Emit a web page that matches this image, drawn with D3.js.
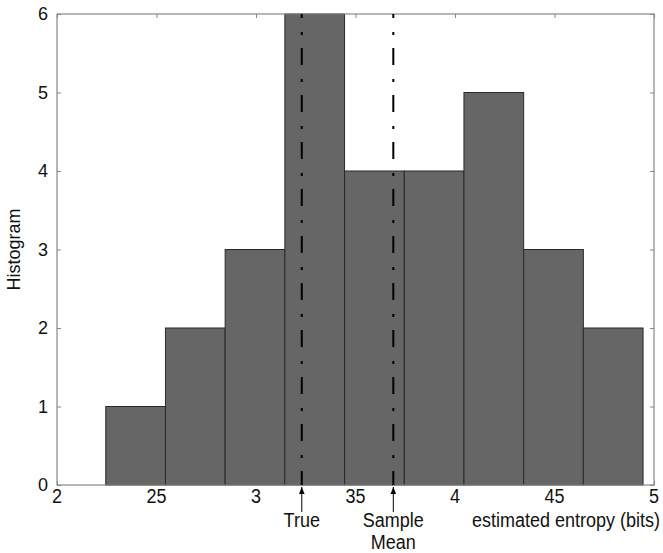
<!DOCTYPE html>
<html>
<head>
<meta charset="utf-8">
<script src="https://cdn.jsdelivr.net/npm/d3@7"></script>
<style>
  body { margin: 0; background: #fff; }
  svg { font-family: "Liberation Sans", Arial, sans-serif; fill: #111; }
  .bar { fill: #666666; stroke: #2a2a2a; stroke-width: 1; }
  .frame { fill: none; stroke: #888; stroke-width: 1.2; }
  .tick line { stroke: #888; }
  .marker { stroke: #000; stroke-width: 2; stroke-dasharray: 17,14,3,13; stroke-dashoffset: 13; }
</style>
</head>
<body>
<div id="chart"></div>
<script>
(function () {
    "use strict";
    var binEdges = [2.245, 2.545, 2.845, 3.145, 3.445, 3.745, 4.045, 4.345, 4.645, 4.945],
        counts = [1, 2, 3, 6, 4, 4, 5, 3, 2],
        xTicks = [2, 2.5, 3, 3.5, 4, 4.5, 5],
        xTickLabels = ["2", "25", "3", "35", "4", "45", "5"],
        yTicks = [0, 1, 2, 3, 4, 5, 6],
        markerValues = [3.23, 3.69],
        markerLabels = [["True"], ["Sample", "Mean"]],
        dims = { width: 663, height: 553 },
        margin = { top: 14, right: 9, bottom: 68, left: 57 },
        w = dims.width - margin.left - margin.right,
        h = dims.height - margin.top - margin.bottom,
        fs = 18,
        svg, g, x, y, bins;

    // bottom texts look slightly stretched vertically in the reference
    function stretched(sel, px, py) {
        return sel.attr("transform", "translate(" + px + "," + py + ") scale(1,1.1)");
    }

    svg = d3.select("#chart").append("svg")
        .attr("width", dims.width)
        .attr("height", dims.height);

    svg.append("defs").append("marker")
        .attr("id", "arrow")
        .attr("viewBox", "0 0 10 10")
        .attr("refX", 10).attr("refY", 5)
        .attr("markerWidth", 8).attr("markerHeight", 7)
        .attr("markerUnits", "userSpaceOnUse")
        .attr("orient", "auto")
        .append("path").attr("d", "M0,1L10,5L0,9Z").attr("fill", "#000");

    g = svg.append("g").attr("transform", "translate(" + margin.left + "," + margin.top + ")");

    x = d3.scaleLinear().domain([2, 5]).range([0, w]);
    y = d3.scaleLinear().domain([0, 6]).range([h, 0]);

    bins = counts.map(function (c, i) {
        return { x0: binEdges[i], x1: binEdges[i + 1], n: c };
    });

    // inward ticks on all four sides
    g.append("g")
        .attr("transform", "translate(0," + h + ")")
        .call(d3.axisBottom(x).tickValues(xTicks).tickSize(-4).tickFormat(""))
        .call(function (s) { s.select(".domain").remove(); });
    g.append("g")
        .call(d3.axisTop(x).tickValues(xTicks).tickSize(-4).tickFormat(""))
        .call(function (s) { s.select(".domain").remove(); });
    g.append("g")
        .call(d3.axisLeft(y).tickValues(yTicks).tickSize(-4).tickFormat(""))
        .call(function (s) { s.select(".domain").remove(); });
    g.append("g")
        .attr("transform", "translate(" + w + ",0)")
        .call(d3.axisRight(y).tickValues(yTicks).tickSize(-4).tickFormat(""))
        .call(function (s) { s.select(".domain").remove(); });

    g.selectAll("rect.bar").data(bins).enter().append("rect")
        .attr("class", "bar")
        .attr("x", function (d) { return x(d.x0); })
        .attr("y", function (d) { return y(d.n); })
        .attr("width", function (d) { return x(d.x1) - x(d.x0); })
        .attr("height", function (d) { return h - y(d.n); });

    g.append("rect").attr("class", "frame")
        .attr("x", 0).attr("y", 0).attr("width", w).attr("height", h);

    // tick labels
    g.selectAll("text.xl").data(xTicks).enter().append("text")
        .attr("class", "xl")
        .attr("text-anchor", "middle")
        .attr("font-size", fs)
        .each(function (d) { stretched(d3.select(this), x(d), h + 18); })
        .text(function (d, i) { return xTickLabels[i]; });

    g.selectAll("text.yl").data(yTicks).enter().append("text")
        .attr("class", "yl")
        .attr("x", -9)
        .attr("y", function (d) { return y(d) + 6; })
        .attr("text-anchor", "end")
        .attr("font-size", fs)
        .text(function (d) { return d; });

    // marker lines
    g.selectAll("line.marker").data(markerValues).enter().append("line")
        .attr("class", "marker")
        .attr("x1", function (d) { return x(d); })
        .attr("x2", function (d) { return x(d); })
        .attr("y1", 0)
        .attr("y2", h);

    g.selectAll("line.arrow").data(markerValues).enter().append("line")
        .attr("stroke", "#000").attr("stroke-width", 1)
        .attr("x1", function (d) { return x(d); })
        .attr("x2", function (d) { return x(d); })
        .attr("y1", h + 27)
        .attr("y2", h + 2)
        .attr("marker-end", "url(#arrow)");

    markerValues.forEach(function (v, i) {
        markerLabels[i].forEach(function (line, j) {
            stretched(g.append("text"), x(v), h + 42 + j * 22)
                .attr("text-anchor", "middle")
                .attr("font-size", fs)
                .text(line);
        });
    });

    stretched(g.append("text"), w + 6, h + 42)
        .attr("text-anchor", "end")
        .attr("font-size", fs)
        .text("estimated entropy (bits)");

    g.append("text")
        .attr("transform", "translate(" + (-37) + "," + (h / 2) + ") rotate(-90)")
        .attr("text-anchor", "middle")
        .attr("font-size", fs)
        .text("Histogram");
}());
</script>
</body>
</html>
